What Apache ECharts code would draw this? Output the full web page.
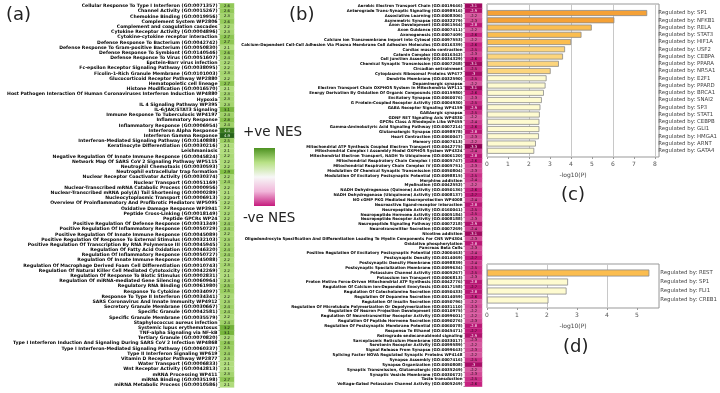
<!DOCTYPE html>
<html>
<head>
<meta charset="utf-8">
<script src="https://cdn.jsdelivr.net/npm/echarts@6/dist/echarts.min.js"></script>
<style>
  html, body { margin: 0; padding: 0; background: #fff; }
  #grafico { width: 720px; height: 393px; }
</style>
</head>
<body>
<div id="grafico"></div>
<script>
// Términos con NES positivo (panel a)
var terminosA = [
  "Cellular Response To Type I Interferon (GO:0071357)",
  "Channel Activity (GO:0015267)",
  "Chemokine Binding (GO:0019956)",
  "Complement System WP2806",
  "Complement and coagulation cascades",
  "Cytokine Receptor Activity (GO:0004896)",
  "Cytokine-cytokine receptor interaction",
  "Defense Response To Bacterium (GO:0042742)",
  "Defense Response To Gram-positive Bacterium (GO:0050830)",
  "Defense Response To Symbiont (GO:0140546)",
  "Defense Response To Virus (GO:0051607)",
  "Epstein-Barr virus infection",
  "Fc-epsilon Receptor Signaling Pathway (GO:0038095)",
  "Ficolin-1-Rich Granule Membrane (GO:0101003)",
  "Glucocorticoid Receptor Pathway WP2880",
  "Hematopoietic cell lineage",
  "Histone Modification (GO:0016570)",
  "Host Pathogen Interaction Of Human Coronaviruses Interferon Induction WP4880",
  "Hypoxia",
  "IL 4 Signaling Pathway WP395",
  "IL-6/JAK/STAT3 Signaling",
  "Immune Response To Tuberculosis WP4197",
  "Inflammatory Response",
  "Inflammatory Response (GO:0006954)",
  "Interferon Alpha Response",
  "Interferon Gamma Response",
  "Interferon-Mediated Signaling Pathway (GO:0140888)",
  "Keratinocyte Differentiation (GO:0030216)",
  "Leishmaniasis",
  "Negative Regulation Of Innate Immune Response (GO:0045824)",
  "Network Map Of SARS CoV 2 Signaling Pathway WP5115",
  "Neutrophil Chemotaxis (GO:0030593)",
  "Neutrophil extracellular trap formation",
  "Nuclear Receptor Coactivator Activity (GO:0030374)",
  "Nuclear Transport (GO:0051169)",
  "Nuclear-Transcribed mRNA Catabolic Process (GO:0000956)",
  "Nuclear-Transcribed mRNA poly(A) Tail Shortening (GO:0000289)",
  "Nucleocytoplasmic Transport (GO:0006913)",
  "Overview Of Proinflammatory And Profibrotic Mediators WP5095",
  "Oxidative Damage Response WP3941",
  "Peptide Cross-Linking (GO:0018149)",
  "Peptide GPCRs WP24",
  "Positive Regulation Of Defense Response (GO:0031349)",
  "Positive Regulation Of Inflammatory Response (GO:0050729)",
  "Positive Regulation Of Innate Immune Response (GO:0045089)",
  "Positive Regulation Of Response To External Stimulus (GO:0032103)",
  "Positive Regulation Of Transcription By RNA Polymerase III (GO:0045945)",
  "Regulation Of Fatty Acid Oxidation (GO:0046320)",
  "Regulation Of Inflammatory Response (GO:0050727)",
  "Regulation Of Innate Immune Response (GO:0045088)",
  "Regulation Of Macrophage Derived Foam Cell Differentiation (GO:0010743)",
  "Regulation Of Natural Killer Cell Mediated Cytotoxicity (GO:0042269)",
  "Regulation Of Response To Biotic Stimulus (GO:0002831)",
  "Regulation Of miRNA-mediated Gene Silencing (GO:0060964)",
  "Regulatory RNA Binding (GO:0061980)",
  "Response To Cytokine (GO:0034097)",
  "Response To Type II Interferon (GO:0034341)",
  "SARS Coronavirus And Innate Immunity WP4912",
  "Secretory Granule Membrane (GO:0030667)",
  "Specific Granule (GO:0042581)",
  "Specific Granule Membrane (GO:0035579)",
  "Staphylococcus aureus infection",
  "Systemic lupus erythematosus",
  "TNF-alpha Signaling via NF-kB",
  "Tertiary Granule (GO:0070820)",
  "Type I Interferon Induction And Signaling During SARS CoV 2 Infection WP4868",
  "Type I Interferon-Mediated Signaling Pathway (GO:0060337)",
  "Type II Interferon Signaling WP619",
  "Vitamin D Receptor Pathway WP2877",
  "Water Transport (GO:0006833)",
  "Wnt Receptor Activity (GO:0042813)",
  "mRNA Processing WP411",
  "miRNA Binding (GO:0035198)",
  "miRNA Metabolic Process (GO:0010586)"
];
var nesA = [2.6, 2.6, 2.3, 2.6, 2.2, 2.3, 2.7, 2.7, 2.1, 2.6, 2.4, 2.2, 2.2, 2.3, 2.2, 2.7, 2.1, 2.3, 2.3, 2.3,
  3.1, 2.4, 2.8, 2.4, 4.4, 4.9, 2.5, 2.1, 2.1, 2.2, 2.2, 2.2, 2.9, 2.2, 2.4, 2.2, 2.1, 2.2, 2.2, 2.2,
  2.2, 2.2, 2.4, 2.4, 2.2, 2.3, 2.3, 2.4, 2.4, 2.2, 2.3, 2.2, 2.1, 2.3, 2.5, 2.5, 2.2, 2.3, 2.4, 2.4,
  2.2, 2.4, 3.2, 3.1, 2.2, 2.6, 2.5, 2.4, 2.3, 2.1, 2.1, 2.3, 2.7, 2.1];

// Términos con NES negativo (panel b)
var terminosB = [
  "Aerobic Electron Transport Chain (GO:0019646)",
  "Anterograde Trans-Synaptic Signaling (GO:0098916)",
  "Associative Learning (GO:0008306)",
  "Asymmetric Synapse (GO:0032279)",
  "Axon Development (GO:0061564)",
  "Axon Guidance (GO:0007411)",
  "Axonogenesis (GO:0007409)",
  "Calcium Ion Transmembrane Import Into Cytosol (GO:0097553)",
  "Calcium-Dependent Cell-Cell Adhesion Via Plasma Membrane Cell Adhesion Molecules (GO:0016339)",
  "Cardiac muscle contraction",
  "Catenin Complex (GO:0016342)",
  "Cell Junction Assembly (GO:0034329)",
  "Chemical Synaptic Transmission (GO:0007268)",
  "Circadian entrainment",
  "Cytoplasmic Ribosomal Proteins WP477",
  "Dendrite Membrane (GO:0032590)",
  "Dopaminergic synapse",
  "Electron Transport Chain OXPHOS System In Mitochondria WP111",
  "Energy Derivation By Oxidation Of Organic Compounds (GO:0015980)",
  "Excitatory Synapse (GO:0060076)",
  "G Protein-Coupled Receptor Activity (GO:0004930)",
  "GABA Receptor Signaling WP4159",
  "GABAergic synapse",
  "GDNF RET Signaling Axis WP4830",
  "GPCRs Class A Rhodopsin Like WP455",
  "Gamma-Aminobutyric Acid Signaling Pathway (GO:0007214)",
  "Glutamatergic Synapse (GO:0098978)",
  "Heart Contraction (GO:0060047)",
  "Memory (GO:0007613)",
  "Mitochondrial ATP Synthesis Coupled Electron Transport (GO:0042775)",
  "Mitochondrial Complex I Assembly Model OXPHOS System WP4324",
  "Mitochondrial Electron Transport, NADH To Ubiquinone (GO:0006120)",
  "Mitochondrial Respiratory Chain Complex I (GO:0005747)",
  "Mitochondrial Respiratory Chain Complex IV (GO:0005751)",
  "Modulation Of Chemical Synaptic Transmission (GO:0050804)",
  "Modulation Of Excitatory Postsynaptic Potential (GO:0098815)",
  "Morphine addiction",
  "Myelination (GO:0042552)",
  "NADH Dehydrogenase (Quinone) Activity (GO:0050136)",
  "NADH Dehydrogenase (Ubiquinone) Activity (GO:0008137)",
  "NO cGMP PKG Mediated Neuroprotection WP4008",
  "Neuroactive ligand-receptor interaction",
  "Neuropeptide Activity (GO:0160041)",
  "Neuropeptide Hormone Activity (GO:0005184)",
  "Neuropeptide Receptor Activity (GO:0008188)",
  "Neuropeptide Signaling Pathway (GO:0007218)",
  "Neurotransmitter Secretion (GO:0007269)",
  "Nicotine addiction",
  "Oligodendrocyte Specification And Differentiation Leading To Myelin Components For CNS WP4304",
  "Oxidative phosphorylation",
  "Pancreas Beta Cells",
  "Positive Regulation Of Excitatory Postsynaptic Potential (GO:2000463)",
  "Postsynaptic Density (GO:0014069)",
  "Postsynaptic Density Membrane (GO:0098839)",
  "Postsynaptic Specialization Membrane (GO:0099634)",
  "Potassium Channel Activity (GO:0005267)",
  "Potassium Ion Transport (GO:0006813)",
  "Proton Motive Force-Driven Mitochondrial ATP Synthesis (GO:0042776)",
  "Regulation Of Calcium Ion-Dependent Exocytosis (GO:0017158)",
  "Regulation Of Catecholamine Secretion (GO:0050433)",
  "Regulation Of Dopamine Secretion (GO:0014059)",
  "Regulation Of Insulin Secretion (GO:0050796)",
  "Regulation Of Microtubule Polymerization Or Depolymerization (GO:0031110)",
  "Regulation Of Neuron Projection Development (GO:0010975)",
  "Regulation Of Neurotransmitter Receptor Activity (GO:0099601)",
  "Regulation Of Peptide Hormone Secretion (GO:0090276)",
  "Regulation Of Postsynaptic Membrane Potential (GO:0060078)",
  "Response To Ethanol (GO:0045471)",
  "Retrograde endocannabinoid signaling",
  "Sarcoplasmic Reticulum Membrane (GO:0033017)",
  "Serotonin Receptor Activity (GO:0099589)",
  "Signal Release From Synapse (GO:0099643)",
  "Splicing Factor NOVA Regulated Synaptic Proteins WP4148",
  "Synapse Assembly (GO:0007416)",
  "Synapse Organization (GO:0050808)",
  "Synaptic Transmission, Glutamatergic (GO:0035249)",
  "Synaptic Vesicle Membrane (GO:0030672)",
  "Taste transduction",
  "Voltage-Gated Potassium Channel Activity (GO:0005249)"
];
var nesB = [-3.1, -2.9, -2.2, -2.3, -2.8, -2.2, -2.6, -2.2, -2.6, -2.5, -2.3, -2.6, -3.1, -2.5, -3, -2.5, -2.2, -3.1, -2.6, -2.3,
  -2.5, -2.9, -2.5, -2.2, -2.4, -2.6, -2.8, -2.3, -2.2, -3.3, -2.4, -2.8, -2.6, -2.3, -2.3, -2.5, -2.4, -2.2, -2.6, -2.7,
  -2.4, -2.8, -2.5, -2.5, -2.3, -2.9, -2.4, -3.1, -2.3, -2.8, -2.3, -2.4, -2.7, -2.4, -2.5, -2.5, -2.3, -2.8, -2.7, -2.8,
  -2.6, -2.2, -2.3, -2.2, -2.2, -2.3, -2.8, -2.7, -2.9, -2.3, -2.2, -2.3, -2.2, -2.5, -3, -2.2, -2.3, -2.5, -2.6];

// Factores de transcripción (paneles c y d)
var factoresC = ["SP1", "NFKB1", "RELA", "STAT3", "HIF1A", "USF2", "CEBPA", "PPARA", "NR5A1", "E2F1",
  "PPARD", "BRCA1", "SNAI2", "SP3", "STAT1", "CEBPB", "GLI1", "HMGA1", "ARNT", "GATA4"];
var log10pC = [7.8, 6.2, 5.1, 4.6, 4.1, 3.8, 3.7, 3.5, 3.1, 2.9, 2.85, 2.77, 2.67, 2.6, 2.57, 2.55, 2.55, 2.53, 2.38, 2.3];
var factoresD = ["REST", "SP1", "FLI1", "CREB1"];
var log10pD = [5.47, 2.73, 2.68, 2.07];

var grafico = echarts.init(document.getElementById('grafico'));

function datosHeatmap(valores, umbral) {
  return valores.map(function (v, i) {
    var oscuro = Math.abs(v) >= umbral;
    return { value: [0, i, v], label: { color: oscuro ? '#ffffff' : '#111111' } };
  });
}

function formatoNES(p) {
  var v = p.value[2];
  return Number.isInteger(v) ? String(v) : v.toFixed(1);
}

function colorBarra(p) {
  var v = p.value;
  if (v >= 6) return '#f5a136';
  if (v >= 4) return '#fbbd4f';
  if (v >= 3) return '#fcd57d';
  return '#fefbd0';
}

var fuenteEtiqueta = 'DejaVu Sans';
var maxC = 172 / 21;
var maxD = 172 / 30;

var ejeEtiquetas = function (grid, max) {
  return {
    type: 'value', gridIndex: grid, min: 0, max: max, interval: 1,
    axisLine: { show: false },
    axisTick: { show: true, length: 2, lineStyle: { color: '#999' } },
    axisLabel: { fontSize: 6, color: '#555', margin: 4, fontFamily: fuenteEtiqueta, showMaxLabel: false },
    splitLine: { show: false },
    name: '-log10(P)', nameLocation: 'middle', nameGap: 15,
    nameTextStyle: { fontSize: 6, color: '#444', fontFamily: fuenteEtiqueta }
  };
};
var ejeRejilla = function (grid, max) {
  return {
    type: 'value', gridIndex: grid, min: 0, max: max, interval: 2,
    axisLine: { show: false }, axisTick: { show: false }, axisLabel: { show: false },
    splitLine: { show: true, lineStyle: { color: '#c8c8c8', width: 1 } }
  };
};
var ejeOculto = function (grid, max) {
  return { type: 'value', gridIndex: grid, min: 0, max: max, show: false };
};
var ejeFactores = function (grid, datos) {
  return {
    type: 'category', gridIndex: grid, data: datos, inverse: true, position: 'right',
    axisLine: { show: false }, axisTick: { show: false },
    axisLabel: {
      interval: 0, fontSize: 5.4, color: '#444', margin: 3, fontFamily: fuenteEtiqueta,
      formatter: function (v) { return 'Regulated by: ' + v; }
    }
  };
};
var ejeTerminos = function (grid, datos, tam) {
  return {
    type: 'category', gridIndex: grid, data: datos, inverse: true,
    axisLine: { show: false },
    axisTick: { show: true, length: 1.5, lineStyle: { color: '#333', width: 0.5 } },
    axisLabel: { interval: 0, fontSize: tam, fontWeight: 'bold', color: '#000', margin: 2.5, fontFamily: fuenteEtiqueta }
  };
};

var opciones = {
  animation: false,
  backgroundColor: '#ffffff',
  grid: [
    { left: 220, width: 14, top: 3.4, height: 384 },
    { left: 465, width: 17, top: 3.6, height: 383 },
    { left: 487, width: 172, top: 4, height: 153, show: true, borderColor: '#999', borderWidth: 1 },
    { left: 487, width: 172, top: 9.4, height: 145 },
    { left: 487, width: 172, top: 264, height: 44, show: true, borderColor: '#999', borderWidth: 1 },
    { left: 487, width: 172, top: 268.5, height: 36 }
  ],
  xAxis: [
    { type: 'category', gridIndex: 0, data: [''], show: false },
    { type: 'category', gridIndex: 1, data: [''], show: false },
    ejeEtiquetas(2, maxC),
    ejeRejilla(2, maxC),
    ejeOculto(3, maxC),
    ejeEtiquetas(4, maxD),
    ejeRejilla(4, maxD),
    ejeOculto(5, maxD)
  ],
  yAxis: [
    ejeTerminos(0, terminosA, 4.58),
    ejeTerminos(1, terminosB, 3.92),
    { type: 'value', gridIndex: 2, min: 0, max: 1, show: false },
    ejeFactores(3, factoresC),
    { type: 'value', gridIndex: 4, min: 0, max: 1, show: false },
    ejeFactores(5, factoresD)
  ],
  visualMap: [
    {
      type: 'continuous', show: false, seriesIndex: 0, dimension: 2, min: 0, max: 4.9,
      inRange: { color: ['#f7f7f7', '#e6f5d0', '#b8e186', '#7fbc41', '#4d9221', '#276419'] }
    },
    {
      type: 'continuous', show: false, seriesIndex: 1, dimension: 2, min: -3.3, max: 0,
      inRange: { color: ['#8e0152', '#c51b7d', '#de77ae', '#f1b6da', '#fde0ef', '#f7f7f7'] }
    }
  ],
  series: [
    {
      name: 'NES +', type: 'heatmap', xAxisIndex: 0, yAxisIndex: 0,
      data: datosHeatmap(nesA, 4),
      label: { show: true, fontSize: 3.8, formatter: formatoNES, fontFamily: fuenteEtiqueta },
      itemStyle: { borderColor: 'rgba(255,255,255,0.35)', borderWidth: 0.3 }
    },
    {
      name: 'NES -', type: 'heatmap', xAxisIndex: 1, yAxisIndex: 1,
      data: datosHeatmap(nesB, 2.8),
      label: { show: true, fontSize: 3.6, formatter: formatoNES, fontFamily: fuenteEtiqueta },
      itemStyle: { borderColor: 'rgba(255,255,255,0.35)', borderWidth: 0.3 }
    },
    {
      name: 'TF c', type: 'bar', xAxisIndex: 4, yAxisIndex: 3,
      data: log10pC, barWidth: 6,
      itemStyle: { color: colorBarra, borderColor: '#8a8a8a', borderWidth: 0.8 }
    },
    {
      name: 'TF d', type: 'bar', xAxisIndex: 7, yAxisIndex: 5,
      data: log10pD, barWidth: 7,
      itemStyle: { color: colorBarra, borderColor: '#8a8a8a', borderWidth: 0.8 }
    }
  ],
  graphic: [
    { type: 'text', left: 6, top: 6, style: { text: '(a)', fontSize: 18, fill: '#222', fontFamily: fuenteEtiqueta } },
    { type: 'text', left: 289, top: 6, style: { text: '(b)', fontSize: 18, fill: '#222', fontFamily: fuenteEtiqueta } },
    { type: 'text', left: 561, top: 186, style: { text: '(c)', fontSize: 18, fill: '#222', fontFamily: fuenteEtiqueta } },
    { type: 'text', left: 563, top: 338, style: { text: '(d)', fontSize: 18, fill: '#222', fontFamily: fuenteEtiqueta } },
    { type: 'text', left: 243, top: 125, style: { text: '+ve NES', fontSize: 13.5, fill: '#222', fontFamily: fuenteEtiqueta } },
    { type: 'text', left: 243, top: 211, style: { text: '-ve NES', fontSize: 13.5, fill: '#222', fontFamily: fuenteEtiqueta } },
    {
      type: 'rect', left: 254, top: 148, shape: { width: 21, height: 58 },
      style: {
        fill: new echarts.graphic.LinearGradient(0, 0, 0, 1, [
          { offset: 0, color: '#4d9221' },
          { offset: 0.25, color: '#b8e186' },
          { offset: 0.5, color: '#f7f7f7' },
          { offset: 0.75, color: '#f1b6da' },
          { offset: 1, color: '#c51b7d' }
        ])
      }
    }
  ]
};

grafico.setOption(opciones);
</script>
</body>
</html>
